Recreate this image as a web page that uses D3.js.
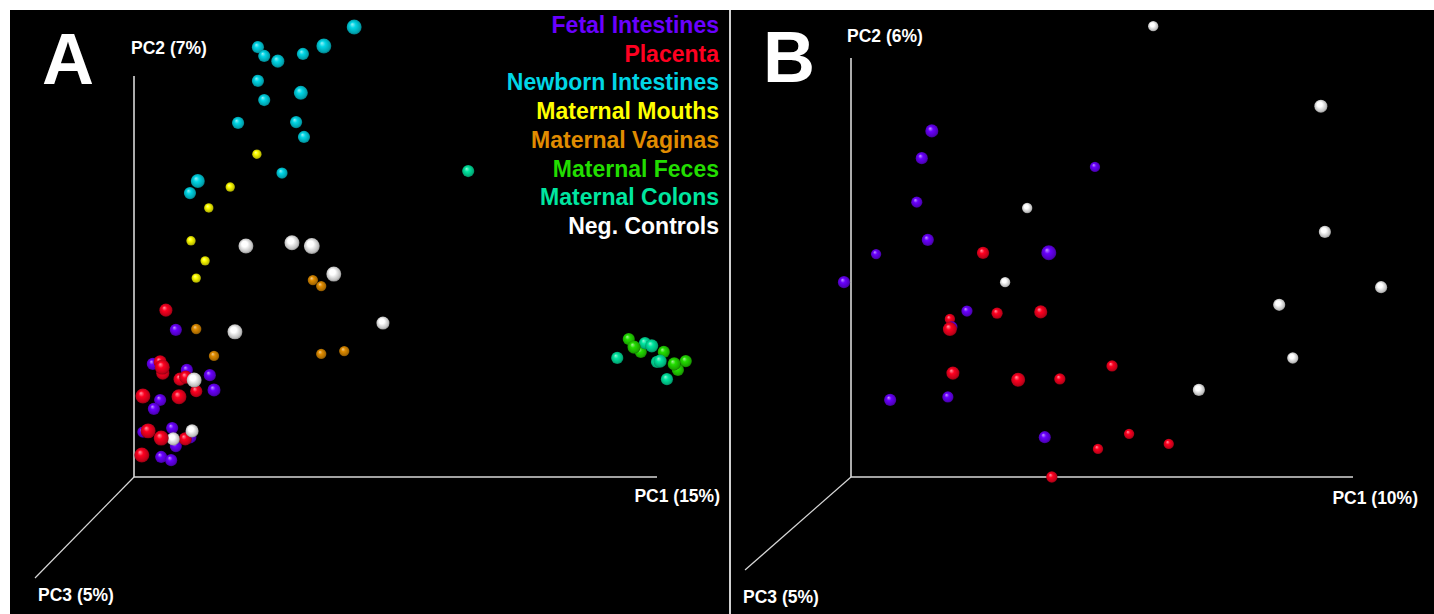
<!DOCTYPE html>
<html><head><meta charset="utf-8">
<script src="https://cdn.jsdelivr.net/npm/d3@7"></script>
<style>html,body{margin:0;padding:0;background:#fff;}svg{display:block;}</style>
</head><body>
<script>
// ---- Data ----
const categories = ["Fetal Intestines","Placenta","Newborn Intestines","Maternal Mouths","Maternal Vaginas","Maternal Feces","Maternal Colons","Neg. Controls"];
const colors = ["#6a00ff","#ff0020","#00d6e6","#ffff00","#e08c00","#22dd00","#00e6a0","#ffffff"];
const axisLabelsA = ["PC1 (15%)","PC2 (7%)","PC3 (5%)"];
const axisLabelsB = ["PC1 (10%)","PC2 (6%)","PC3 (5%)"];

// Panel A: [pc1, pc2, depth] per category
const A_fetal = [[8.0,36.7,.5],[3.6,28.2,.5],[10.1,26.7,.5],[14.5,25.4,.5],[15.3,21.7,.6],[5.0,19.2,.5],[3.8,17.0,.5],[7.3,12.2,.5],[8.0,7.7,.5],[10.7,10.0,.6],[5.2,5.0,.5],[7.1,4.2,.5],[1.7,11.2,.4]];
const A_placenta = [[6.1,41.6,.6],[5.0,28.7,.6],[5.4,27.4,.8],[5.5,25.9,.6],[8.8,24.4,.6],[9.9,24.9,.6],[11.9,21.4,.5],[1.7,20.2,.8],[8.6,20.0,.8],[2.7,11.5,.8],[5.2,9.7,.8],[9.8,9.5,.6],[1.5,5.5,.8]];
const A_newborn = [[42.1,112.2,.8],[36.3,107.5,.8],[23.7,107.2,.5],[24.9,105.0,.5],[27.5,103.7,.6],[32.3,105.5,.5],[23.7,98.8,.5],[31.9,95.8,.7],[24.9,94.0,.5],[19.9,88.3,.5],[31.0,88.5,.5],[32.5,84.8,.5],[28.3,75.8,.4],[12.2,73.8,.7],[10.7,70.8,.5]];
const A_mouths = [[23.5,80.5,.2],[18.4,72.3,.2],[14.3,67.1,.2],[10.9,58.9,.2],[13.6,53.9,.2],[11.9,49.6,.2]];
const A_vaginas = [[34.2,49.1,.3],[35.8,47.6,.3],[11.9,36.9,.3],[15.3,30.2,.3],[35.8,30.7,.3],[40.2,31.4,.3]];
const A_feces = [[94.6,34.4,.5],[95.6,32.4,.6],[96.9,31.2,.5],[101.3,31.2,.5],[103.3,28.2,.6],[105.5,28.9,.5],[104.0,26.7,.5]];
const A_colons = [[92.4,29.7,.5],[97.7,33.4,.5],[99.0,32.7,.6],[100.0,28.7,.5],[100.6,28.9,.6],[101.9,24.4,.5],[63.9,76.3,.5]];
const A_controls = [[21.4,57.6,.8],[30.2,58.4,.8],[34.0,57.6,.9],[38.2,50.6,.8],[19.3,36.2,.8],[47.6,38.4,.6],[11.5,24.2,.8],[11.1,11.5,.6],[7.5,9.5,.6]];

// Panel B
const B_fetal = [[16.1,82.6,.6],[14.1,76.1,.5],[13.1,65.6,.4],[15.3,56.6,.5],[5.0,53.2,.3],[-1.4,46.5,.5],[39.4,53.5,.8],[48.6,74.0,.3],[23.1,39.6,.4],[7.8,18.4,.5],[19.3,19.1,.4],[38.6,9.5,.5],[20.1,35.8,.4]];
const B_placenta = [[26.3,53.5,.5],[19.7,37.7,.3],[19.7,35.3,.7],[29.1,39.1,.4],[37.8,39.4,.6],[20.3,24.8,.6],[33.3,23.2,.7],[41.6,23.4,.4],[52.0,26.5,.4],[55.4,10.3,.3],[49.2,6.7,.3],[63.3,7.9,.3],[40.0,0.0,.4]];
const B_controls = [[35.1,64.2,.3],[30.7,46.5,.3],[69.3,20.8,.5],[60.2,107.6,.3],[93.6,88.5,.6],[94.4,58.5,.5],[105.6,45.3,.5],[85.3,41.1,.5],[88.0,28.4,.4]];

const seriesA = [A_fetal,A_placenta,A_newborn,A_mouths,A_vaginas,A_feces,A_colons,A_controls];
const seriesB = [B_fetal,B_placenta,null,null,null,null,null,B_controls];

// ---- Layout ----
const W = 1434, H = 614;
const svg = d3.select("body").append("svg").attr("width",W).attr("height",H)
  .style("font-family","'Liberation Sans', Arial, sans-serif");

svg.append("rect").attr("x",0).attr("y",0).attr("width",W).attr("height",H).attr("fill","#fff");

const defs = svg.append("defs");
colors.forEach((c,i)=>{
  const g = defs.append("radialGradient").attr("id","sph"+i)
    .attr("cx","50%").attr("cy","50%").attr("r","55%").attr("fx","36%").attr("fy","30%");
  g.append("stop").attr("offset","0%").attr("stop-color", d3.interpolateRgb(c,"#fff")(0.6));
  g.append("stop").attr("offset","35%").attr("stop-color", c);
  g.append("stop").attr("offset","80%").attr("stop-color", d3.interpolateRgb(c,"#000")(0.25));
  g.append("stop").attr("offset","100%").attr("stop-color", d3.interpolateRgb(c,"#000")(0.55));
});

const rScale = d3.scaleLinear().domain([0,1]).range([3.8,8.4]);

const panels = [
  {rect:[10,10,719,604], letter:"A", letterPos:[42,84], origin:[134,477], xEnd:657, yTop:76, pc3End:[35,578],
   x:d3.scaleLinear().domain([0,100]).range([134,657]), y:d3.scaleLinear().domain([0,100]).range([477,76]),
   labels:axisLabelsA, pc1Pos:[720,502], pc2Pos:[131,54], pc3Pos:[38,601], series:seriesA, legend:true},
  {rect:[731,10,703,604], letter:"B", letterPos:[763,82], origin:[851,477], xEnd:1353, yTop:58, pc3End:[745,570],
   x:d3.scaleLinear().domain([0,100]).range([851,1353]), y:d3.scaleLinear().domain([0,100]).range([477,58]),
   labels:axisLabelsB, pc1Pos:[1418,504], pc2Pos:[847,42], pc3Pos:[743,603], series:seriesB, legend:false}
];

panels.forEach(p=>{
  const g = svg.append("g");
  g.append("rect").attr("x",p.rect[0]).attr("y",p.rect[1]).attr("width",p.rect[2]).attr("height",p.rect[3]).attr("fill","#000");
  // axes
  const ax = g.append("g").attr("stroke","#d8d8d8").attr("stroke-width",1.6).attr("fill","none");
  ax.append("line").attr("x1",p.origin[0]).attr("y1",p.origin[1]).attr("x2",p.xEnd).attr("y2",p.origin[1]);
  ax.append("line").attr("x1",p.origin[0]).attr("y1",p.origin[1]).attr("x2",p.origin[0]).attr("y2",p.yTop);
  ax.append("line").attr("x1",p.origin[0]).attr("y1",p.origin[1]).attr("x2",p.pc3End[0]).attr("y2",p.pc3End[1]).attr("stroke-width",1.2);
  const lab = g.append("g").attr("fill","#fff").attr("font-weight","bold").attr("font-size","17.5px");
  lab.append("text").attr("x",p.pc1Pos[0]).attr("y",p.pc1Pos[1]).attr("text-anchor","end").text(p.labels[0]);
  lab.append("text").attr("x",p.pc2Pos[0]).attr("y",p.pc2Pos[1]).text(p.labels[1]);
  lab.append("text").attr("x",p.pc3Pos[0]).attr("y",p.pc3Pos[1]).text(p.labels[2]);
  g.append("text").attr("x",p.letterPos[0]).attr("y",p.letterPos[1]).attr("fill","#fff")
    .attr("font-weight","bold").attr("font-size","72px").text(p.letter);

  // points, sorted by depth so nearer spheres are drawn on top
  const pts = [];
  p.series.forEach((s,ci)=>{ if(s) s.forEach(d=>pts.push({x:d[0],y:d[1],z:d[2],c:ci})); });
  pts.sort((a,b)=>a.z-b.z);
  g.append("g").selectAll("circle").data(pts).join("circle")
    .attr("cx",d=>p.x(d.x)).attr("cy",d=>p.y(d.y)).attr("r",d=>rScale(d.z))
    .attr("fill",d=>"url(#sph"+d.c+")");

  if(p.legend){
    g.append("g").selectAll("text").data(categories).join("text")
      .attr("x",719).attr("y",(d,i)=>33+i*28.7).attr("text-anchor","end")
      .attr("font-weight","bold").attr("font-size","23px")
      .attr("fill",(d,i)=>colors[i]).text(d=>d);
  }
});
// separator between panels
svg.append("line").attr("x1",730).attr("x2",730).attr("y1",10).attr("y2",H).attr("stroke","#d0d0d0").attr("stroke-width",2);
</script>
</body></html>
